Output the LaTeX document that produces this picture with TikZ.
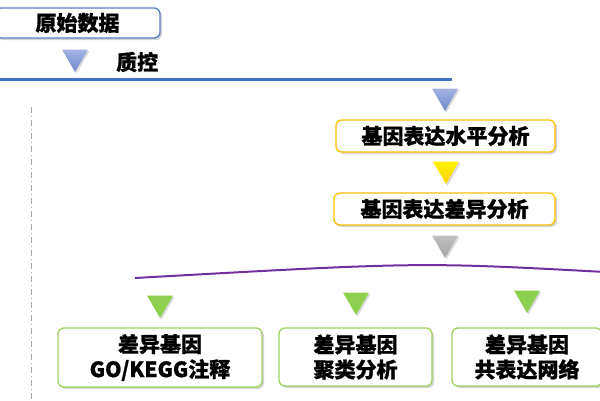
\documentclass[tikz,border=0pt]{standalone}
\usepackage{fontspec}
\newfontfamily\cjk[BoldFeatures={FakeBold=0.9}]{Noto Sans CJK SC}
\usetikzlibrary{shapes.geometric,shadows}
\definecolor{bluebd}{HTML}{5B7FC7}
\definecolor{blueline}{HTML}{4472C4}
\definecolor{bluetritop}{HTML}{A3B3E2}
\definecolor{bluetribot}{HTML}{6E89CB}
\definecolor{yeltop}{HTML}{FFF200}
\definecolor{yelbot}{HTML}{FFD200}
\definecolor{goldbd}{HTML}{FFC000}
\definecolor{greenbd}{HTML}{9BD25E}
\definecolor{greentri}{HTML}{8DCF4E}
\definecolor{purpleln}{HTML}{7030A0}
\tikzset{
  box/.style={draw, rounded corners=6pt, fill=white, line width=1.3pt, align=center,
    font=\cjk\bfseries\fontsize{21}{25}\selectfont, inner sep=0pt,
    drop shadow={shadow xshift=2pt, shadow yshift=-2pt, opacity=0.35, fill=gray}},
  tri/.style={regular polygon, regular polygon sides=3, shape border rotate=180,
    minimum size=30pt, inner sep=0pt, draw=none,
    drop shadow={shadow xshift=1.5pt, shadow yshift=-1.5pt, opacity=0.3, fill=gray}},
  lbl/.style={font=\cjk\bfseries\fontsize{21}{25}\selectfont, inner sep=0pt}
}
\begin{document}
\begin{tikzpicture}[x=1pt,y=-1pt]
\useasboundingbox (0,0) rectangle (600,400);
% top box
\node[box, draw=bluebd, minimum width=165pt, minimum height=30pt] (raw) at (77.5,23) {原始数据};
\node[tri, top color=bluetritop, bottom color=bluetribot] (t1) at (75,57) {};
\node[lbl, anchor=west] (qc) at (116,62) {质控};
\coordinate (bl0) at (0,79);
\coordinate (bl1) at (452,79);
\draw[blueline, line width=3pt] (bl0) -- (bl1);
% vertical dash-dot
\coordinate (v0) at (31,107);
\coordinate (v1) at (31,400);
\draw[gray!70, line width=1pt, dash pattern=on 6pt off 3pt on 1pt off 3pt] (v0) -- (v1);
% right column
\node[tri, top color=bluetritop, bottom color=bluetribot] (t2) at (445,96) {};
\node[box, draw=goldbd, minimum width=219pt, minimum height=32pt] (lvl) at (445.5,136) {基因表达水平分析};
\node[tri, top color=yeltop, bottom color=yelbot] (t3) at (446,169) {};
\node[box, draw=goldbd, minimum width=221pt, minimum height=32pt] (diff) at (444.5,209) {基因表达差异分析};
\node[tri, top color=gray!50, bottom color=gray!70] (t4) at (445,243) {};
% purple arc
\coordinate (p0) at (135,278);
\coordinate (pc) at (420,262);
\coordinate (p1) at (605,272);
\draw[purpleln, line width=2pt] (p0) .. controls (pc) .. (p1);
% green triangles
\node[tri, fill=greentri] (g1) at (160,303) {};
\node[tri, fill=greentri] (g2) at (356,300) {};
\node[tri, fill=greentri] (g3) at (527,298) {};
% bottom boxes
\node[box, draw=greenbd, minimum width=204pt, minimum height=59pt] (b1) at (160,357.5) {差异基因\\GO/KEGG注释};
\node[box, draw=greenbd, minimum width=153pt, minimum height=58pt] (b2) at (355.5,357) {差异基因\\聚类分析};
\node[box, draw=greenbd, minimum width=150pt, minimum height=58pt] (b3) at (527,357) {差异基因\\共表达网络};
\end{tikzpicture}
\end{document}
